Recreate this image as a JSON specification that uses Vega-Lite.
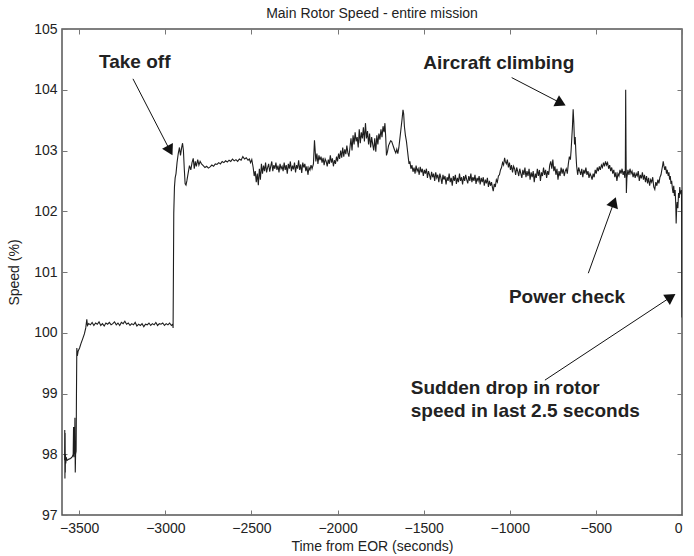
{
"$schema": "https://vega.github.io/schema/vega-lite/v6.json",
"width": 620, "height": 486,
"autosize": {"type": "none"},
"padding": {"left": 62, "top": 29, "right": 12, "bottom": 41},
"background": "white",
"config": {
  "font": "Liberation Sans",
  "view": {"stroke": "#555", "strokeWidth": 1.5},
  "axis": {"domain": false, "grid": false, "tickColor": "#777", "tickSize": -5, "tickWidth": 1, "labelFont": "Liberation Sans", "labelFontSize": 14, "labelColor": "#222", "titleFont": "Liberation Sans", "titleFontSize": 14, "titleFontWeight": "normal", "titleColor": "#222"}
},
"title": {"text": "Main Rotor Speed - entire mission", "fontSize": 14, "fontWeight": "normal", "color": "#222", "font": "Liberation Sans", "anchor": "middle", "offset": 1},
"datasets": {
"series": [
{"t":-3585,"v":97.9},{"t":-3584,"v":98.4},{"t":-3583,"v":97.6},{"t":-3582,"v":98.35},{"t":-3581,"v":97.7},{"t":-3580,"v":98.0},{"t":-3578,"v":97.85},{"t":-3576,"v":97.95},{"t":-3570,"v":97.9},{"t":-3560,"v":97.92},{"t":-3550,"v":97.93},{"t":-3540,"v":97.96},{"t":-3535,"v":98.0},{"t":-3533,"v":98.45},{"t":-3531,"v":97.95},{"t":-3529,"v":98.45},{"t":-3527,"v":98.0},{"t":-3525,"v":98.6},{"t":-3523,"v":97.7},{"t":-3521,"v":98.0},{"t":-3518,"v":98.05},{"t":-3516,"v":99.0},{"t":-3514,"v":99.75},{"t":-3511,"v":99.62},{"t":-3506,"v":99.7},{"t":-3498,"v":99.75},{"t":-3490,"v":99.82},{"t":-3480,"v":99.9},{"t":-3470,"v":99.98},{"t":-3462,"v":100.08},{"t":-3456,"v":100.22},{"t":-3452,"v":100.12},
{"t":-3445,"v":100.15},{"t":-3435,"v":100.13},{"t":-3425,"v":100.17},{"t":-3415,"v":100.12},{"t":-3405,"v":100.16},{"t":-3395,"v":100.14},{"t":-3385,"v":100.18},{"t":-3375,"v":100.12},{"t":-3365,"v":100.15},{"t":-3355,"v":100.11},{"t":-3345,"v":100.16},{"t":-3335,"v":100.14},{"t":-3325,"v":100.17},{"t":-3315,"v":100.13},{"t":-3305,"v":100.15},{"t":-3295,"v":100.18},{"t":-3285,"v":100.13},{"t":-3275,"v":100.16},{"t":-3265,"v":100.12},{"t":-3255,"v":100.17},{"t":-3245,"v":100.15},{"t":-3235,"v":100.19},{"t":-3225,"v":100.14},{"t":-3215,"v":100.16},{"t":-3205,"v":100.12},{"t":-3195,"v":100.15},{"t":-3185,"v":100.13},{"t":-3175,"v":100.17},{"t":-3165,"v":100.11},{"t":-3155,"v":100.14},{"t":-3145,"v":100.12},{"t":-3135,"v":100.15},{"t":-3125,"v":100.1},{"t":-3115,"v":100.14},{"t":-3105,"v":100.13},{"t":-3095,"v":100.16},{"t":-3085,"v":100.12},{"t":-3075,"v":100.15},{"t":-3065,"v":100.13},{"t":-3055,"v":100.17},{"t":-3045,"v":100.12},{"t":-3035,"v":100.15},{"t":-3025,"v":100.14},{"t":-3015,"v":100.16},{"t":-3005,"v":100.12},{"t":-2995,"v":100.15},{"t":-2985,"v":100.13},{"t":-2975,"v":100.16},{"t":-2965,"v":100.12},{"t":-2957,"v":100.14},{"t":-2955,"v":100.08},
{"t":-2953,"v":101.0},{"t":-2951,"v":101.97},{"t":-2947,"v":102.4},{"t":-2943,"v":102.55},{"t":-2938,"v":102.62},{"t":-2932,"v":102.8},{"t":-2925,"v":102.95},{"t":-2918,"v":103.05},{"t":-2912,"v":102.92},{"t":-2905,"v":103.05},{"t":-2900,"v":103.12},{"t":-2895,"v":103.0},{"t":-2890,"v":102.7},{"t":-2885,"v":102.45},{"t":-2880,"v":102.43},{"t":-2875,"v":102.5},{"t":-2868,"v":102.62},{"t":-2860,"v":102.75},{"t":-2852,"v":102.68},{"t":-2845,"v":102.8},{"t":-2838,"v":102.87},{"t":-2832,"v":102.7},{"t":-2826,"v":102.82},{"t":-2820,"v":102.74},{"t":-2812,"v":102.85},{"t":-2805,"v":102.76},{"t":-2798,"v":102.82},{"t":-2790,"v":102.78},{"t":-2780,"v":102.75},{"t":-2770,"v":102.72},{"t":-2760,"v":102.74},{"t":-2750,"v":102.71},{"t":-2740,"v":102.73},{"t":-2730,"v":102.76},{"t":-2720,"v":102.74},{"t":-2710,"v":102.78},{"t":-2700,"v":102.77},{"t":-2690,"v":102.8},{"t":-2680,"v":102.78},{"t":-2670,"v":102.82},{"t":-2660,"v":102.8},{"t":-2650,"v":102.83},{"t":-2640,"v":102.81},{"t":-2630,"v":102.84},{"t":-2620,"v":102.82},{"t":-2610,"v":102.86},{"t":-2600,"v":102.83},{"t":-2590,"v":102.85},{"t":-2580,"v":102.82},{"t":-2570,"v":102.86},{"t":-2560,"v":102.84},{"t":-2550,"v":102.9},{"t":-2540,"v":102.86},{"t":-2530,"v":102.88},{"t":-2520,"v":102.84},{"t":-2512,"v":102.86},{"t":-2505,"v":102.8},{"t":-2498,"v":102.85},{"t":-2490,"v":102.72},{"t":-2484,"v":102.58},{"t":-2478,"v":102.66},{"t":-2472,"v":102.48},{"t":-2466,"v":102.62},{"t":-2460,"v":102.43},{"t":-2454,"v":102.7},{"t":-2448,"v":102.52},{"t":-2442,"v":102.78},{"t":-2436,"v":102.62},{"t":-2430,"v":102.75},{"t":-2424,"v":102.66},{"t":-2418,"v":102.8},{"t":-2412,"v":102.64},{"t":-2406,"v":102.72},{"t":-2400,"v":102.78},{"t":-2394,"v":102.65},{"t":-2388,"v":102.74},{"t":-2382,"v":102.82},{"t":-2376,"v":102.66},{"t":-2370,"v":102.76},{"t":-2364,"v":102.7},{"t":-2358,"v":102.8},{"t":-2352,"v":102.68},{"t":-2346,"v":102.75},{"t":-2340,"v":102.64},{"t":-2334,"v":102.78},{"t":-2328,"v":102.7},{"t":-2322,"v":102.74},{"t":-2316,"v":102.66},{"t":-2310,"v":102.8},{"t":-2304,"v":102.68},{"t":-2298,"v":102.76},{"t":-2292,"v":102.62},{"t":-2286,"v":102.78},{"t":-2280,"v":102.7},{"t":-2274,"v":102.82},{"t":-2268,"v":102.66},{"t":-2262,"v":102.75},{"t":-2256,"v":102.69},{"t":-2250,"v":102.8},{"t":-2244,"v":102.64},{"t":-2238,"v":102.76},{"t":-2232,"v":102.7},{"t":-2226,"v":102.84},{"t":-2220,"v":102.68},{"t":-2214,"v":102.77},{"t":-2208,"v":102.63},{"t":-2202,"v":102.8},{"t":-2196,"v":102.72},{"t":-2190,"v":102.78},{"t":-2184,"v":102.66},{"t":-2178,"v":102.74},{"t":-2172,"v":102.6},{"t":-2166,"v":102.72},{"t":-2160,"v":102.68},{"t":-2154,"v":102.76},{"t":-2148,"v":102.7},{"t":-2140,"v":102.78},{"t":-2134,"v":103.17},{"t":-2130,"v":103.0},{"t":-2126,"v":102.82},{"t":-2120,"v":102.95},{"t":-2114,"v":102.78},{"t":-2108,"v":102.92},{"t":-2102,"v":102.84},{"t":-2096,"v":102.9},{"t":-2090,"v":102.8},{"t":-2084,"v":102.88},{"t":-2078,"v":102.76},{"t":-2072,"v":102.86},{"t":-2066,"v":102.82},{"t":-2060,"v":102.74},{"t":-2054,"v":102.85},{"t":-2048,"v":102.78},{"t":-2042,"v":102.92},{"t":-2036,"v":102.8},{"t":-2030,"v":102.87},{"t":-2024,"v":102.74},{"t":-2018,"v":102.84},{"t":-2012,"v":102.78},{"t":-2006,"v":102.9},{"t":-2000,"v":102.82},{"t":-1994,"v":102.95},{"t":-1988,"v":102.86},{"t":-1982,"v":103.0},{"t":-1976,"v":102.88},{"t":-1970,"v":103.05},{"t":-1964,"v":102.9},{"t":-1958,"v":103.02},{"t":-1952,"v":102.94},{"t":-1946,"v":103.08},{"t":-1940,"v":102.96},{"t":-1934,"v":102.9},{"t":-1928,"v":103.05},{"t":-1922,"v":103.2},{"t":-1916,"v":103.0},{"t":-1910,"v":103.25},{"t":-1904,"v":103.1},{"t":-1898,"v":103.3},{"t":-1892,"v":103.15},{"t":-1886,"v":103.22},{"t":-1880,"v":103.05},{"t":-1874,"v":103.35},{"t":-1868,"v":103.12},{"t":-1862,"v":103.3},{"t":-1856,"v":103.2},{"t":-1850,"v":103.38},{"t":-1844,"v":103.15},{"t":-1838,"v":103.45},{"t":-1832,"v":103.2},{"t":-1826,"v":103.32},{"t":-1820,"v":103.1},{"t":-1814,"v":103.28},{"t":-1808,"v":103.05},{"t":-1802,"v":103.22},{"t":-1796,"v":103.1},{"t":-1790,"v":103.0},{"t":-1784,"v":103.2},{"t":-1778,"v":102.98},{"t":-1772,"v":103.25},{"t":-1766,"v":103.1},{"t":-1760,"v":103.28},{"t":-1754,"v":103.18},{"t":-1748,"v":103.35},{"t":-1742,"v":103.22},{"t":-1736,"v":103.4},{"t":-1730,"v":103.3},{"t":-1725,"v":103.45},{"t":-1720,"v":103.2},{"t":-1716,"v":102.92},{"t":-1710,"v":102.98},{"t":-1704,"v":103.08},{"t":-1698,"v":103.12},{"t":-1692,"v":103.16},{"t":-1686,"v":103.15},{"t":-1680,"v":103.1},{"t":-1674,"v":103.05},{"t":-1668,"v":103.0},{"t":-1662,"v":102.96},{"t":-1656,"v":103.02},{"t":-1650,"v":102.95},{"t":-1644,"v":103.05},{"t":-1638,"v":103.2},{"t":-1632,"v":103.35},{"t":-1626,"v":103.5},{"t":-1620,"v":103.67},{"t":-1616,"v":103.6},{"t":-1612,"v":103.4},{"t":-1606,"v":103.25},{"t":-1600,"v":103.15},{"t":-1594,"v":103.0},{"t":-1590,"v":102.9},{"t":-1585,"v":102.78},{"t":-1580,"v":102.82},{"t":-1574,"v":102.7},{"t":-1568,"v":102.76},
{"t":-1562,"v":102.65},{"t":-1556,"v":102.72},{"t":-1550,"v":102.62},{"t":-1544,"v":102.75},{"t":-1538,"v":102.66},{"t":-1532,"v":102.7},{"t":-1526,"v":102.6},{"t":-1520,"v":102.73},{"t":-1514,"v":102.64},{"t":-1508,"v":102.7},{"t":-1502,"v":102.58},{"t":-1496,"v":102.68},{"t":-1490,"v":102.62},{"t":-1484,"v":102.7},{"t":-1478,"v":102.55},{"t":-1472,"v":102.66},{"t":-1466,"v":102.6},{"t":-1460,"v":102.52},{"t":-1454,"v":102.65},{"t":-1448,"v":102.56},{"t":-1442,"v":102.62},{"t":-1436,"v":102.5},{"t":-1430,"v":102.64},{"t":-1424,"v":102.55},{"t":-1418,"v":102.6},{"t":-1412,"v":102.48},{"t":-1406,"v":102.62},{"t":-1400,"v":102.55},{"t":-1394,"v":102.45},{"t":-1388,"v":102.6},{"t":-1382,"v":102.52},{"t":-1376,"v":102.58},{"t":-1370,"v":102.44},{"t":-1364,"v":102.56},{"t":-1358,"v":102.5},{"t":-1352,"v":102.62},{"t":-1346,"v":102.48},{"t":-1340,"v":102.55},{"t":-1334,"v":102.42},{"t":-1328,"v":102.58},{"t":-1322,"v":102.5},{"t":-1316,"v":102.6},{"t":-1310,"v":102.45},{"t":-1304,"v":102.55},{"t":-1298,"v":102.48},{"t":-1292,"v":102.62},{"t":-1286,"v":102.5},{"t":-1280,"v":102.56},{"t":-1274,"v":102.44},{"t":-1268,"v":102.58},{"t":-1262,"v":102.5},{"t":-1256,"v":102.6},{"t":-1250,"v":102.52},{"t":-1244,"v":102.46},{"t":-1238,"v":102.58},{"t":-1232,"v":102.5},{"t":-1226,"v":102.62},{"t":-1220,"v":102.48},{"t":-1214,"v":102.56},{"t":-1208,"v":102.5},{"t":-1202,"v":102.6},{"t":-1196,"v":102.45},{"t":-1190,"v":102.55},{"t":-1184,"v":102.5},{"t":-1178,"v":102.58},{"t":-1172,"v":102.44},{"t":-1166,"v":102.55},{"t":-1160,"v":102.48},{"t":-1154,"v":102.56},{"t":-1148,"v":102.42},{"t":-1142,"v":102.52},{"t":-1136,"v":102.46},{"t":-1130,"v":102.55},{"t":-1124,"v":102.4},{"t":-1118,"v":102.5},{"t":-1112,"v":102.42},{"t":-1106,"v":102.48},{"t":-1100,"v":102.38},{"t":-1096,"v":102.33},{"t":-1090,"v":102.45},{"t":-1084,"v":102.4},{"t":-1078,"v":102.52},{"t":-1072,"v":102.48},{"t":-1066,"v":102.58},{"t":-1060,"v":102.6},{"t":-1054,"v":102.68},{"t":-1048,"v":102.72},{"t":-1042,"v":102.8},{"t":-1036,"v":102.76},{"t":-1030,"v":102.88},{"t":-1026,"v":102.82},{"t":-1020,"v":102.78},{"t":-1014,"v":102.85},{"t":-1008,"v":102.72},{"t":-1002,"v":102.8},{"t":-996,"v":102.68},{"t":-990,"v":102.76},{"t":-984,"v":102.64},{"t":-978,"v":102.74},{"t":-972,"v":102.7},{"t":-966,"v":102.6},{"t":-960,"v":102.72},{"t":-954,"v":102.66},{"t":-948,"v":102.58},{"t":-942,"v":102.7},{"t":-936,"v":102.62},{"t":-930,"v":102.55},{"t":-924,"v":102.68},{"t":-918,"v":102.6},{"t":-912,"v":102.72},{"t":-906,"v":102.56},{"t":-900,"v":102.66},{"t":-894,"v":102.58},{"t":-888,"v":102.7},{"t":-882,"v":102.52},{"t":-876,"v":102.64},{"t":-870,"v":102.56},{"t":-864,"v":102.66},{"t":-858,"v":102.48},{"t":-852,"v":102.62},{"t":-846,"v":102.55},{"t":-840,"v":102.7},{"t":-834,"v":102.58},{"t":-828,"v":102.68},{"t":-822,"v":102.5},{"t":-816,"v":102.64},{"t":-810,"v":102.58},{"t":-804,"v":102.72},{"t":-798,"v":102.6},{"t":-792,"v":102.68},{"t":-786,"v":102.55},{"t":-780,"v":102.66},{"t":-774,"v":102.6},{"t":-768,"v":102.76},{"t":-762,"v":102.82},{"t":-756,"v":102.7},{"t":-750,"v":102.85},{"t":-744,"v":102.66},{"t":-738,"v":102.74},{"t":-732,"v":102.6},{"t":-726,"v":102.7},{"t":-720,"v":102.52},{"t":-714,"v":102.66},{"t":-708,"v":102.58},{"t":-702,"v":102.72},{"t":-696,"v":102.62},{"t":-690,"v":102.7},{"t":-684,"v":102.58},{"t":-678,"v":102.66},{"t":-672,"v":102.7},{"t":-666,"v":102.62},{"t":-660,"v":102.78},{"t":-654,"v":102.9},{"t":-648,"v":102.85},{"t":-644,"v":103.0},{"t":-640,"v":103.2},{"t":-636,"v":103.4},{"t":-632,"v":103.68},{"t":-628,"v":103.45},{"t":-624,"v":103.1},{"t":-620,"v":103.22},{"t":-616,"v":102.95},{"t":-612,"v":102.75},{"t":-606,"v":102.6},{"t":-600,"v":102.72},{"t":-594,"v":102.66},{"t":-588,"v":102.6},{"t":-582,"v":102.7},{"t":-576,"v":102.56},{"t":-570,"v":102.68},{"t":-564,"v":102.62},{"t":-558,"v":102.72},{"t":-552,"v":102.6},{"t":-546,"v":102.66},{"t":-540,"v":102.55},{"t":-534,"v":102.62},{"t":-528,"v":102.58},{"t":-522,"v":102.52},{"t":-516,"v":102.62},{"t":-510,"v":102.56},{"t":-504,"v":102.68},{"t":-498,"v":102.62},{"t":-492,"v":102.72},{"t":-486,"v":102.66},{"t":-480,"v":102.74},{"t":-474,"v":102.68},{"t":-468,"v":102.76},{"t":-462,"v":102.72},{"t":-456,"v":102.8},{"t":-450,"v":102.74},{"t":-444,"v":102.82},{"t":-438,"v":102.76},{"t":-432,"v":102.8},{"t":-426,"v":102.7},{"t":-420,"v":102.76},{"t":-414,"v":102.66},{"t":-408,"v":102.72},{"t":-402,"v":102.62},{"t":-396,"v":102.68},{"t":-390,"v":102.56},{"t":-384,"v":102.64},{"t":-378,"v":102.5},{"t":-372,"v":102.62},{"t":-366,"v":102.58},{"t":-360,"v":102.68},{"t":-354,"v":102.62},{"t":-348,"v":102.7},{"t":-342,"v":102.6},{"t":-336,"v":102.66},{"t":-332,"v":102.55},{"t":-329,"v":102.7},{"t":-327,"v":104.0},{"t":-325,"v":103.0},{"t":-323,"v":102.3},{"t":-320,"v":102.55},{"t":-314,"v":102.68},{"t":-308,"v":102.6},{"t":-302,"v":102.7},{"t":-296,"v":102.62},{"t":-290,"v":102.66},{"t":-284,"v":102.56},{"t":-278,"v":102.64},{"t":-272,"v":102.55},{"t":-266,"v":102.62},{"t":-260,"v":102.58},{"t":-254,"v":102.66},{"t":-248,"v":102.5},{"t":-242,"v":102.6},{"t":-236,"v":102.54},{"t":-230,"v":102.64},{"t":-224,"v":102.52},{"t":-218,"v":102.6},{"t":-212,"v":102.48},{"t":-206,"v":102.58},{"t":-200,"v":102.46},{"t":-194,"v":102.55},{"t":-188,"v":102.42},{"t":-182,"v":102.52},{"t":-176,"v":102.48},{"t":-170,"v":102.56},{"t":-164,"v":102.4},{"t":-158,"v":102.36},{"t":-152,"v":102.48},{"t":-146,"v":102.42},{"t":-140,"v":102.52},{"t":-134,"v":102.46},{"t":-128,"v":102.56},{"t":-122,"v":102.6},{"t":-116,"v":102.7},{"t":-112,"v":102.76},{"t":-109,"v":102.82},{"t":-105,"v":102.75},{"t":-100,"v":102.68},{"t":-95,"v":102.74},{"t":-90,"v":102.62},{"t":-86,"v":102.68},{"t":-80,"v":102.58},{"t":-76,"v":102.64},{"t":-72,"v":102.52},{"t":-68,"v":102.58},{"t":-64,"v":102.45},{"t":-60,"v":102.5},{"t":-56,"v":102.38},{"t":-52,"v":102.3},{"t":-48,"v":102.42},{"t":-44,"v":102.25},{"t":-40,"v":102.35},{"t":-36,"v":102.1},{"t":-34,"v":101.8},{"t":-31,"v":102.05},{"t":-28,"v":102.15},{"t":-24,"v":102.05},{"t":-20,"v":102.3},{"t":-16,"v":102.22},{"t":-13,"v":102.4},{"t":-10,"v":102.32},{"t":-6,"v":102.28},{"t":-3,"v":102.35},{"t":-2,"v":101.8},{"t":-1,"v":100.6},{"t":0,"v":100.25}
],
"notes": [
{"label":"Take off","t":-3385,"v":104.46},
{"label":"Aircraft climbing","t":-1502,"v":104.44},
{"label":"Power check","t":-1005,"v":100.59},
{"label":"Sudden drop in rotor","t":-1575,"v":99.09},
{"label":"speed in last 2.5 seconds","t":-1575,"v":98.71}
],
"arrows": [
{"name":"takeoff","t":-3188,"v":104.18,"t2":-2973,"v2":103.0},
{"name":"climb","t":-989,"v":104.2,"t2":-703,"v2":103.78},
{"name":"power","t":-544,"v":100.98,"t2":-395,"v2":102.15},
{"name":"drop","t":-796,"v":99.22,"t2":-64,"v2":100.59}
]
},
"layer": [
{
  "data": {"name": "series"},
  "mark": {"type": "line", "color": "#1e1e1e", "strokeWidth": 1.1, "clip": true},
  "encoding": {
    "x": {"field": "t", "type": "quantitative", "scale": {"domain": [-3600, 0], "nice": false, "zero": false},
          "axis": {"orient": "bottom", "values": [-3500,-3000,-2500,-2000,-1500,-1000,-500,0], "format": "d", "labelPadding": 11, "title": "Time from EOR (seconds)", "titlePadding": 4}},
    "y": {"field": "v", "type": "quantitative", "scale": {"domain": [97, 105], "nice": false, "zero": false},
          "axis": {"orient": "left", "values": [97,98,99,100,101,102,103,104,105], "format": "d", "labelPadding": 10, "title": "Speed (%)", "titlePadding": 12}}
  }
},
{
  "data": {"name": "notes"},
  "mark": {"type": "point", "opacity": 0},
  "encoding": {
    "x": {"field": "t", "type": "quantitative", "axis": {"orient": "top", "values": [-3500,-3000,-2500,-2000,-1500,-1000,-500,0], "labels": false, "title": null}},
    "y": {"field": "v", "type": "quantitative", "axis": {"orient": "right", "values": [97,98,99,100,101,102,103,104,105], "labels": false, "title": null}}
  }
},
{
  "data": {"name": "arrows"},
  "mark": {"type": "rule", "color": "#111", "strokeWidth": 1},
  "encoding": {
    "x": {"field": "t", "type": "quantitative", "axis": null},
    "y": {"field": "v", "type": "quantitative", "axis": null},
    "x2": {"field": "t2"},
    "y2": {"field": "v2"}
  }
},
{
  "data": {"name": "arrows"},
  "transform": [{"filter": "datum.name == 'takeoff'"}],
  "mark": {"type": "point", "shape": "triangle-up", "filled": true, "color": "#111", "opacity": 1, "size": 150, "angle": 152},
  "encoding": {"x": {"field": "t2", "type": "quantitative", "axis": null}, "y": {"field": "v2", "type": "quantitative", "axis": null}}
},
{
  "data": {"name": "arrows"},
  "transform": [{"filter": "datum.name == 'climb'"}],
  "mark": {"type": "point", "shape": "triangle-up", "filled": true, "color": "#111", "opacity": 1, "size": 150, "angle": 117},
  "encoding": {"x": {"field": "t2", "type": "quantitative", "axis": null}, "y": {"field": "v2", "type": "quantitative", "axis": null}}
},
{
  "data": {"name": "arrows"},
  "transform": [{"filter": "datum.name == 'power'"}],
  "mark": {"type": "point", "shape": "triangle-up", "filled": true, "color": "#111", "opacity": 1, "size": 150, "angle": 20},
  "encoding": {"x": {"field": "t2", "type": "quantitative", "axis": null}, "y": {"field": "v2", "type": "quantitative", "axis": null}}
},
{
  "data": {"name": "arrows"},
  "transform": [{"filter": "datum.name == 'drop'"}],
  "mark": {"type": "point", "shape": "triangle-up", "filled": true, "color": "#111", "opacity": 1, "size": 150, "angle": 57},
  "encoding": {"x": {"field": "t2", "type": "quantitative", "axis": null}, "y": {"field": "v2", "type": "quantitative", "axis": null}}
},
{
  "data": {"name": "notes"},
  "mark": {"type": "text", "align": "left", "baseline": "middle", "font": "Liberation Sans", "fontSize": 19, "fontWeight": "bold", "color": "#222"},
  "encoding": {
    "x": {"field": "t", "type": "quantitative", "axis": null},
    "y": {"field": "v", "type": "quantitative", "axis": null},
    "text": {"field": "label"}
  }
}
],
"resolve": {"axis": {"x": "independent", "y": "independent"}}
}
